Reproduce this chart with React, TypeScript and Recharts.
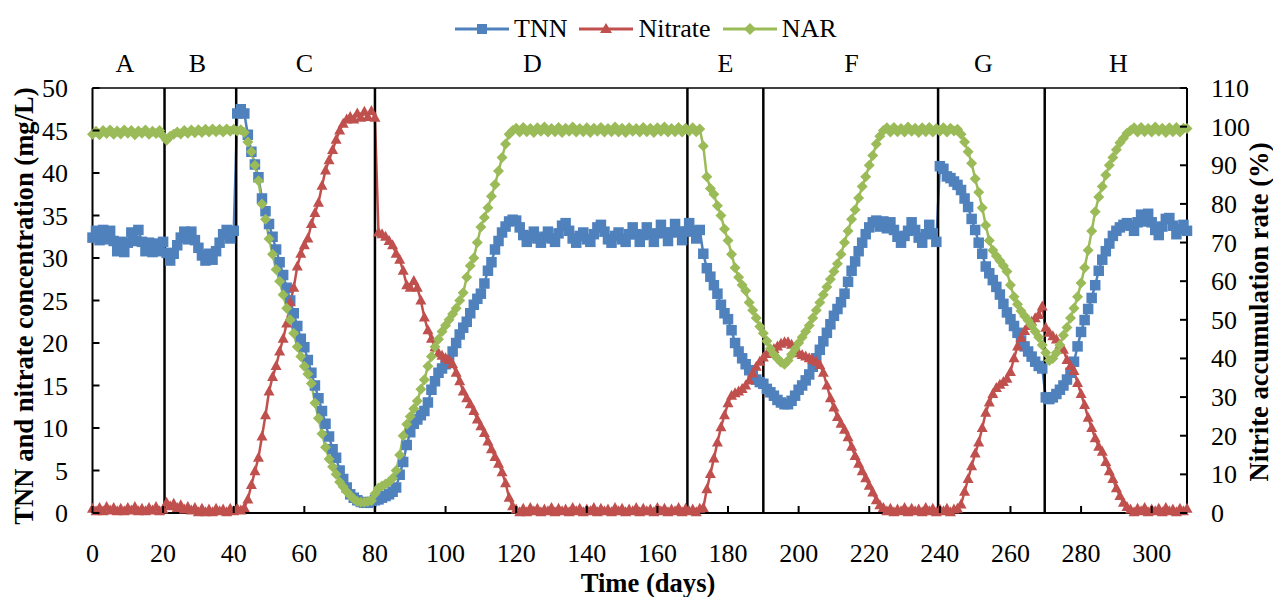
import React from 'react';
import { ComposedChart, Line, XAxis, YAxis, ReferenceLine, ReferenceDot } from 'recharts';

const W = 1273;
const H = 597;
const PL = 92.5;
const PR = 1187;
const PT = 88;
const PB = 513;

const BLUE = '#4F81BD';
const RED = '#C0504D';
const GREEN = '#9BBB59';
const FONT = "'Liberation Serif', 'Times New Roman', serif";

const X_TICKS = [0, 20, 40, 60, 80, 100, 120, 140, 160, 180, 200, 220, 240, 260, 280, 300];
const LEFT_TICKS = [0, 5, 10, 15, 20, 25, 30, 35, 40, 45, 50];
const RIGHT_TICKS = [0, 10, 20, 30, 40, 50, 60, 70, 80, 90, 100, 110];

// phase boundaries (days) and label positions
const PHASE_LINES = [20.4, 40.7, 80, 168.5, 190, 239.5, 269.7];
const PHASE_NAMES = ['A', 'B', 'C', 'D', 'E', 'F', 'G', 'H'];
const PHASE_LABEL_X = [9.2, 29.7, 60, 124.6, 179.3, 215, 252.3, 290.6];

// TNN (mg/L), one value per day, day 0..310
const TNN = [
  32.4, 33.2, 32.1, 33.3, 32.2, 33.2, 32.0, 30.8, 31.9, 30.7,
  31.8, 33.0, 32.0, 33.3, 31.9, 30.8, 31.8, 30.7, 31.7, 30.8,
  31.9, 30.6, 29.7, 30.5, 31.5, 32.4, 33.1, 32.2, 33.1, 32.1,
  31.2, 30.3, 29.7, 30.5, 29.8, 30.8, 31.8, 32.8, 33.3, 32.3,
  33.2, 47.0, 47.5, 47.0, 44.5, 42.5, 41.0, 39.5, 37.0, 35.5,
  34.0, 32.5, 31.0, 29.5, 28.0, 26.5, 25.0, 23.5, 22.0, 20.5,
  19.5, 18.0, 16.5, 15.0, 13.5, 12.0, 10.5, 9.0, 7.5, 6.5,
  5.0, 4.0, 3.0, 2.2, 1.8, 1.5, 1.3, 1.2, 1.2, 1.3,
  1.5, 1.6, 1.8, 2.0, 2.2, 2.5, 3.0, 4.5, 6.0, 8.0,
  9.5, 10.5, 11.0, 11.5, 12.0, 13.0, 14.5, 15.5, 16.5, 17.0,
  17.5, 18.0, 19.0, 20.0, 21.0, 21.8, 22.5, 23.5, 24.5, 25.2,
  25.8, 27.0, 28.5, 29.5, 31.0, 32.0, 33.0, 33.7, 34.3, 34.5,
  34.4, 33.6, 32.7, 31.9, 32.6, 33.1, 32.3, 31.8, 32.5, 33.1,
  32.3, 31.9, 32.9, 33.8, 34.1, 33.2, 32.3, 31.8, 32.6, 33.0,
  32.2, 31.9, 32.8, 33.6, 33.9, 33.1, 32.2, 31.8, 32.6, 33.0,
  32.2, 31.9, 32.8, 33.6, 32.8, 31.9, 32.7, 33.6, 32.8, 31.9,
  32.9, 33.9, 33.0, 32.0, 33.0, 34.0, 33.1, 32.1, 33.1, 34.1,
  33.2, 32.3, 33.3, 30.5, 28.8, 27.8, 26.8, 25.8, 24.5, 23.5,
  22.8, 21.5, 20.0, 19.0, 18.2, 17.5, 16.8, 16.2, 15.7, 15.4,
  15.2, 14.6, 14.2, 13.8, 13.3, 13.0, 12.8, 12.8, 13.2, 13.8,
  14.5, 15.0, 15.6, 16.3, 17.2, 18.2, 19.2, 20.2, 21.2, 22.2,
  23.2, 24.0, 24.8, 25.8, 27.2, 28.5, 29.6, 30.8, 31.8, 32.8,
  33.6, 34.2, 34.4, 33.7, 34.3, 33.5, 34.2, 33.3, 32.5, 31.8,
  32.6, 33.2, 34.2, 33.3, 32.4, 31.8, 32.8, 33.9, 32.9, 31.9,
  40.8, 40.5, 39.6, 39.4, 39.0, 38.6, 38.0, 37.0, 36.0, 34.6,
  33.3, 31.8, 30.5, 29.0, 28.2, 27.4, 26.6, 25.7, 24.6, 23.6,
  22.8, 22.0, 21.2, 20.3, 19.6, 19.0, 18.4, 17.8, 17.3, 17.0,
  13.6, 13.4, 13.6, 14.0, 14.5, 15.0, 15.7, 16.5, 17.8, 19.6,
  21.3, 22.7, 24.0, 25.3, 26.8, 28.5, 29.8, 30.8, 31.7, 32.6,
  33.2, 33.6, 33.9, 34.1, 33.8, 33.2, 34.2, 35.1, 34.3, 35.2,
  34.2, 33.3, 32.7, 33.7, 34.6, 34.7, 33.8, 32.8, 33.4, 33.9,
  33.2,
];

// Nitrate (mg/L), day 0..310
const NITRATE = [
  0.5, 0.2, 0.6, 0.2, 0.7, 0.3, 0.6, 0.2, 0.5, 0.2,
  0.6, 0.3, 0.7, 0.2, 0.5, 0.2, 0.6, 0.3, 0.7, 0.2,
  0.4, 1.2, 0.8, 1.1, 0.6, 0.9, 0.4, 0.7, 0.3, 0.6,
  0.1, 0.5, 0.1, 0.4, 0.1, 0.5, 0.2, 0.4, 0.1, 0.5,
  0.2, 0.5, 0.3, 0.6, 1.6, 3.3, 4.9, 6.5, 9.0, 11.5,
  14.3, 16.0, 17.3, 19.0, 20.5, 22.3, 24.8, 26.5, 29.0, 30.5,
  31.5, 32.3, 34.0, 35.3, 36.5, 38.5, 40.3, 41.5, 42.7, 43.9,
  45.0, 45.8, 46.3, 46.6, 46.3, 47.0, 46.5, 47.2, 46.6, 47.3,
  46.5, 33.0, 32.8, 32.5, 32.0, 31.5, 30.5, 29.8, 28.5, 26.8,
  26.5, 27.3, 26.5, 25.0, 23.0, 21.5, 20.5, 19.5, 18.8, 18.5,
  18.2, 18.0, 17.5, 16.5, 15.5, 14.3, 13.5, 12.8, 12.0, 11.0,
  10.2, 9.4, 8.4, 7.5, 6.6, 5.8, 4.8, 3.5, 1.8, 0.8,
  0.4, 0.1, 0.5, 0.1, 0.6, 0.2, 0.5, 0.1, 0.4, 0.2,
  0.6, 0.1, 0.5, 0.2, 0.4, 0.1, 0.6, 0.2, 0.5, 0.1,
  0.4, 0.2, 0.6, 0.1, 0.5, 0.2, 0.4, 0.1, 0.6, 0.2,
  0.5, 0.1, 0.4, 0.2, 0.6, 0.1, 0.5, 0.2, 0.4, 0.1,
  0.6, 0.2, 0.5, 0.1, 0.4, 0.2, 0.6, 0.1, 0.5, 0.2,
  0.4, 0.1, 0.5, 0.6, 2.8, 4.6, 6.4, 8.3, 10.1, 11.5,
  12.9, 13.8, 14.1, 14.3, 14.6, 15.0, 15.6, 16.4, 17.2, 17.8,
  18.3, 18.7, 19.0, 19.3, 19.6, 19.9, 20.1, 20.1, 19.8, 19.3,
  18.8, 18.6, 18.4, 18.2, 18.0, 17.8, 17.4, 16.5, 15.0, 13.5,
  12.4, 11.3, 10.5, 9.8, 8.9, 7.8, 6.7, 5.8, 4.9, 4.1,
  3.2, 2.4, 1.5, 0.9, 0.6, 0.2, 0.5, 0.1, 0.4, 0.2,
  0.6, 0.1, 0.5, 0.2, 0.4, 0.1, 0.6, 0.2, 0.5, 0.1,
  0.4, 0.2, 0.5, 0.1, 0.4, 0.5, 1.0, 2.5, 4.0, 5.5,
  7.0, 8.3, 10.0, 11.8, 13.0, 14.0, 14.7, 15.1, 15.4, 15.8,
  16.6, 18.2, 19.6, 20.6, 21.4, 22.0, 22.5, 22.9, 23.3, 24.3,
  21.8, 21.2, 20.8, 20.4, 19.8, 19.2, 18.0, 17.3, 16.7, 15.3,
  14.0, 12.7, 11.2, 10.0, 8.8, 7.8, 7.2, 6.0, 4.9, 4.0,
  2.9, 2.0, 1.2, 0.7, 0.4, 0.1, 0.5, 0.2, 0.6, 0.1,
  0.4, 0.2, 0.5, 0.1, 0.6, 0.2, 0.4, 0.1, 0.5, 0.2,
  0.5,
];

// NAR (%), day 0..310
const NAR = [
  98.0, 98.8, 97.9, 99.0, 98.2, 99.1, 98.0, 98.9, 98.1, 99.1,
  98.3, 99.0, 97.9, 98.9, 98.3, 99.1, 98.0, 98.8, 98.2, 99.0,
  97.6, 96.5, 97.5, 98.0, 98.6, 98.1, 99.0, 98.3, 99.1, 98.4,
  99.2, 98.5, 99.3, 98.6, 99.4, 98.7, 99.3, 98.6, 99.4, 98.8,
  99.3, 98.9, 99.2, 98.5, 96.0, 93.5, 90.0, 86.0, 80.0, 76.0,
  71.0, 67.0, 63.0, 60.0, 56.5, 53.0, 50.0, 46.5, 43.0, 40.5,
  38.0, 36.0, 33.5, 28.5, 24.5, 20.5, 17.0, 14.0, 12.0, 10.0,
  8.0, 6.8, 5.5, 4.5, 3.6, 3.0, 2.8, 2.8, 3.0, 3.2,
  5.0, 6.5, 7.0, 7.5, 8.0, 9.0, 11.0, 15.0, 20.0, 23.0,
  25.0, 27.0, 29.0, 32.0, 34.5, 38.0, 40.5, 43.0, 45.0, 47.0,
  48.5, 50.0, 51.5, 53.0, 55.0, 57.0, 61.0, 64.0, 66.0, 70.0,
  74.0, 76.5, 79.0, 82.0, 85.0, 88.5, 92.0, 95.5, 98.0, 99.0,
  99.6, 98.6, 99.8, 98.7, 99.5, 98.5, 99.7, 98.8, 99.9, 98.6,
  99.5, 98.7, 99.8, 98.5, 99.6, 98.8, 99.9, 98.6, 99.5, 98.7,
  99.7, 98.5, 99.6, 98.8, 99.8, 98.6, 99.5, 98.7, 99.9, 98.6,
  99.6, 98.5, 99.7, 98.8, 99.5, 98.6, 99.8, 98.7, 99.6, 98.5,
  99.7, 98.8, 99.9, 98.6, 99.5, 98.7, 99.8, 98.6, 99.6, 98.8,
  99.7, 98.7, 99.4, 95.0, 87.0, 84.0, 82.5, 79.5, 77.0, 73.5,
  70.5, 67.0, 63.5, 61.0, 59.0, 57.5, 54.5, 52.5, 50.5, 48.3,
  46.5, 44.5, 42.5, 41.0, 40.0, 39.0, 38.5, 39.5, 41.0, 42.5,
  44.0, 45.5, 47.0, 48.5, 50.5, 52.5, 54.5, 56.5, 58.5, 60.5,
  62.5, 64.5, 67.0, 70.0, 73.0, 76.0, 78.5, 81.5, 84.5, 87.0,
  90.0, 92.5, 95.5, 97.5, 99.0, 99.7, 98.6, 99.8, 98.7, 99.5,
  98.6, 99.9, 98.8, 99.6, 98.5, 99.7, 98.7, 99.8, 98.6, 99.5,
  98.8, 99.7, 98.6, 99.6, 98.9, 99.3, 98.0, 96.0, 93.5, 90.5,
  86.5, 83.0, 79.0, 74.5, 70.5, 68.0, 66.5, 65.3, 64.0, 62.5,
  59.0, 56.0, 54.0, 52.3, 51.0, 49.8, 48.5, 47.0, 45.5, 43.5,
  41.5, 39.5, 40.0, 41.5, 43.5, 46.0, 48.0, 50.5, 53.0, 56.0,
  59.5, 63.5, 68.0, 73.0, 78.0, 81.8, 84.5, 87.5, 90.0, 92.0,
  94.0, 95.8, 97.0, 98.3, 99.0, 99.7, 98.6, 99.8, 98.7, 99.5,
  98.6, 99.9, 98.8, 99.6, 98.5, 99.7, 98.7, 99.8, 98.6, 99.6,
  99.5,
];

const DAYS = TNN.map((_, i) => i);
const rows = DAYS.map((d) => ({ day: d, tnn: TNN[d], nitrate: NITRATE[d], nar: NAR[d] }));

const textStyle = { fontFamily: FONT, fontSize: 26, fill: '#000' };

const squareDot = (p: any) => (
  <rect key={`s${p.index}`} x={p.cx - 5.25} y={p.cy - 5.25} width={10.5} height={10.5} fill={BLUE} />
);
const triangleDot = (p: any) => (
  <path key={`t${p.index}`} d={`M${p.cx},${p.cy - 6}L${p.cx + 5.5},${p.cy + 4}L${p.cx - 5.5},${p.cy + 4}Z`} fill={RED} />
);
const diamondDot = (p: any) => (
  <path key={`d${p.index}`} d={`M${p.cx},${p.cy - 5.5}L${p.cx + 5.5},${p.cy}L${p.cx},${p.cy + 5.5}L${p.cx - 5.5},${p.cy}Z`} fill={GREEN} />
);

const XTick = (p: any) => {
  const x = p.payload?.coordinate ?? p.x;
  return (
    <g>
      <line x1={x} x2={x} y1={PB} y2={PB - 7} stroke="#000" strokeWidth={2} />
      <text x={x} y={562} textAnchor="middle" style={textStyle}>{p.payload.value}</text>
    </g>
  );
};

const LeftTick = (p: any) => {
  const y = p.payload?.coordinate ?? p.y;
  return (
    <g>
      <line x1={PL} x2={PL + 7} y1={y} y2={y} stroke="#000" strokeWidth={2} />
      <text x={68} y={y} dy={9} textAnchor="end" style={textStyle}>{p.payload.value}</text>
    </g>
  );
};

const RightTick = (p: any) => {
  const y = p.payload?.coordinate ?? p.y;
  return (
    <g>
      <line x1={PR - 7} x2={PR} y1={y} y2={y} stroke="#000" strokeWidth={2} />
      <text x={1211} y={y} dy={9} textAnchor="start" style={textStyle}>{p.payload.value}</text>
    </g>
  );
};

const AxisTitle = ({ tx, ty, rot, txt }: any) => (
  <text
    x={tx}
    y={ty}
    transform={rot ? `rotate(${rot} ${tx} ${ty})` : undefined}
    textAnchor="middle"
    style={{ ...textStyle, fontSize: 26.6, fontWeight: 'bold' }}
  >
    {txt}
  </text>
);

const LegendIcon = ({ color, kind }: { color: string; kind: string }) => (
  <svg width={54} height={20} style={{ display: 'block' }}>
    <line x1={0} x2={54} y1={10} y2={10} stroke={color} strokeWidth={3} />
    {kind === 'square' && <rect x={22} y={5} width={10} height={10} fill={color} />}
    {kind === 'triangle' && <path d="M27,4L33,14L21,14Z" fill={color} />}
    {kind === 'diamond' && <path d="M27,4L33,10L27,16L21,10Z" fill={color} />}
  </svg>
);

const legendItems = [
  { name: 'TNN', color: BLUE, kind: 'square' },
  { name: 'Nitrate', color: RED, kind: 'triangle' },
  { name: 'NAR', color: GREEN, kind: 'diamond' },
];

export default function App() {
  return (
    <div style={{ position: 'absolute', left: 0, top: 0, width: W, height: H, background: '#fff' }}>
      <div
        style={{
          position: 'absolute',
          left: 455,
          top: 14,
          display: 'flex',
          alignItems: 'center',
          fontFamily: FONT,
          fontSize: 26,
          lineHeight: '30px',
          color: '#000',
          zIndex: 2,
        }}
      >
        {legendItems.map((it) => (
          <div key={it.name} style={{ display: 'flex', alignItems: 'center', marginRight: 12 }}>
            <LegendIcon color={it.color} kind={it.kind} />
            <span style={{ marginLeft: 5 }}>{it.name}</span>
          </div>
        ))}
      </div>
      <ComposedChart
        width={W}
        height={H}
        data={rows}
        margin={{ top: PT, right: W - PR - 60, bottom: H - PB - 60, left: PL - 60 }}
      >
        <XAxis
          dataKey="day"
          type="number"
          domain={[0, 310]}
          ticks={X_TICKS}
          interval={0}
          height={60}
          tickLine={false}
          axisLine={{ stroke: '#000', strokeWidth: 2 }}
          tick={<XTick />}
          label={<AxisTitle tx={648} ty={592} txt="Time (days)" />}
        />
        <YAxis
          yAxisId="left"
          domain={[0, 50]}
          ticks={LEFT_TICKS}
          interval={0}
          width={60}
          tickLine={false}
          axisLine={{ stroke: '#000', strokeWidth: 2 }}
          tick={<LeftTick />}
          label={<AxisTitle tx={33} ty={306} rot={-90} txt="TNN and nitrate  concentration (mg/L)" />}
        />
        <YAxis
          yAxisId="right"
          orientation="right"
          domain={[0, 110]}
          ticks={RIGHT_TICKS}
          interval={0}
          width={60}
          tickLine={false}
          axisLine={{ stroke: '#000', strokeWidth: 2 }}
          tick={<RightTick />}
          label={<AxisTitle tx={1268} ty={312} rot={-90} txt="Nitrite accumulation rate (%)" />}
        />
        <ReferenceLine yAxisId="left" y={50} stroke="#000" strokeWidth={1.5} />
        <Line
          yAxisId="left"
          type="linear"
          dataKey="tnn"
          stroke={BLUE}
          strokeWidth={2.5}
          dot={squareDot}
          activeDot={false}
          isAnimationActive={false}
        />
        <Line
          yAxisId="left"
          type="linear"
          dataKey="nitrate"
          stroke={RED}
          strokeWidth={2.5}
          dot={triangleDot}
          activeDot={false}
          isAnimationActive={false}
        />
        <Line
          yAxisId="right"
          type="linear"
          dataKey="nar"
          stroke={GREEN}
          strokeWidth={2.5}
          dot={diamondDot}
          activeDot={false}
          isAnimationActive={false}
        />
        {PHASE_LINES.map((x) => (
          <ReferenceLine key={x} yAxisId="left" x={x} stroke="#000" strokeWidth={2.5} />
        ))}
        {PHASE_NAMES.map((name, i) => (
          <ReferenceDot
            key={name}
            yAxisId="left"
            x={PHASE_LABEL_X[i]}
            y={50}
            r={0}
            fill="none"
            stroke="none"
            ifOverflow="visible"
            label={{ value: name, position: 'top', offset: 16, ...textStyle }}
          />
        ))}
      </ComposedChart>
    </div>
  );
}
